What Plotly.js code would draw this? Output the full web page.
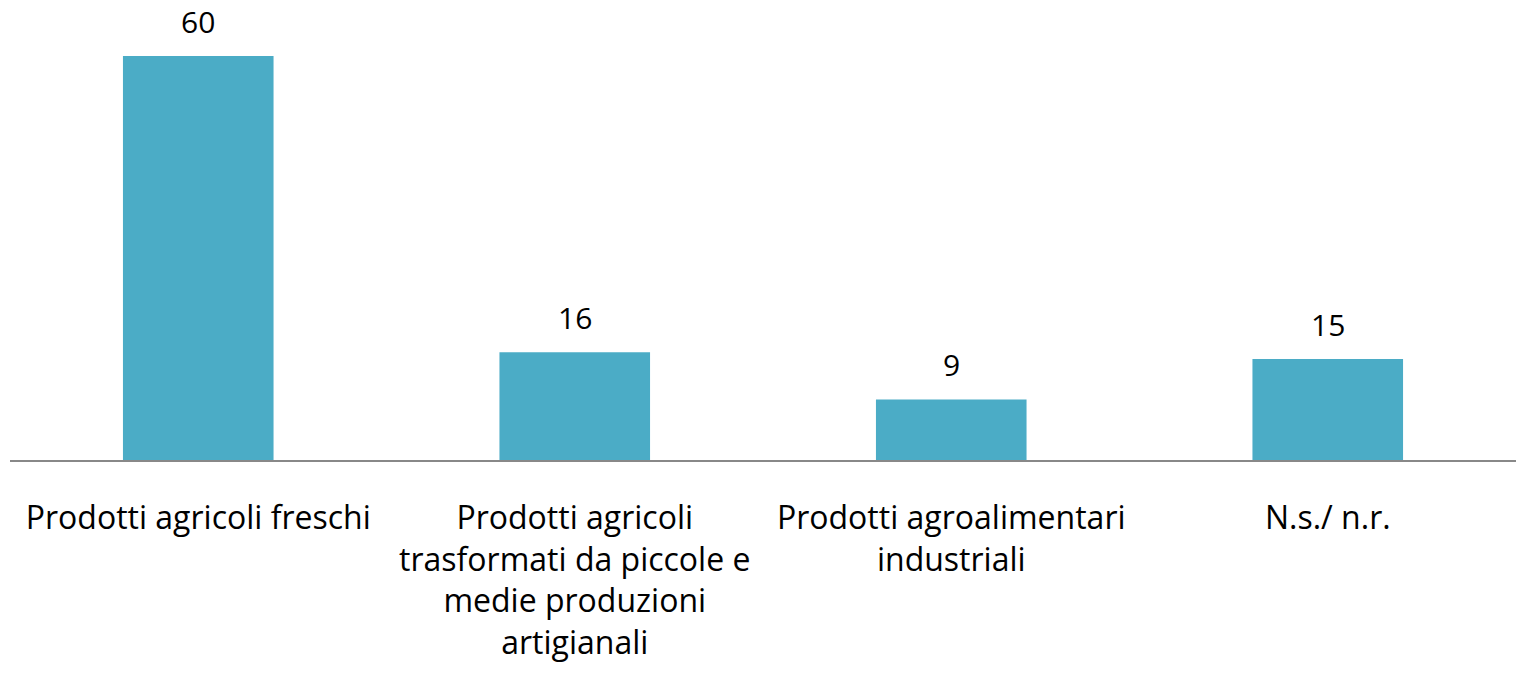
<!DOCTYPE html>
<html><head><meta charset="utf-8">
<script src="https://cdn.plot.ly/plotly-3.0.1.min.js"></script>
<style>body{margin:0;background:#fff}#c{width:1523px;height:675px}</style>
</head><body><div id="c"></div>
<script>
const categories = ["Prodotti agricoli freschi", "Prodotti agricoli<br>trasformati da piccole e<br>medie produzioni<br>artigianali", "Prodotti agroalimentari<br>industriali", "N.s./ n.r."];
const values = [60, 16, 9, 15];
const fontFam = "Open Sans, sans-serif";
Plotly.newPlot('c', [{
  type: 'bar', x: categories, y: values,
  marker: {color: '#4BACC6'},
  hoverinfo: 'none'
}], {
  width: 1523, height: 675,
  margin: {l: 10, r: 7, t: 56, b: 215},
  bargap: 0.6,
  paper_bgcolor: '#fff', plot_bgcolor: '#fff',
  showlegend: false,
  annotations: categories.map((c, i) => ({
    x: c, y: values[i], xref: 'x', yref: 'y', text: String(values[i]),
    showarrow: false, yanchor: 'bottom', yshift: 12,
    font: {family: fontFam, size: 30, color: '#000'}
  })),
  xaxis: {showline: true, linecolor: '#888', linewidth: 1.5, ticks: '', ticklabelstandoff: 29,
    tickfont: {family: fontFam, size: 32, color: '#000'}, fixedrange: true},
  yaxis: {range: [0, 60], visible: false, showgrid: false, zeroline: false, fixedrange: true}
}, {displayModeBar: false, staticPlot: true});
</script></body></html>
